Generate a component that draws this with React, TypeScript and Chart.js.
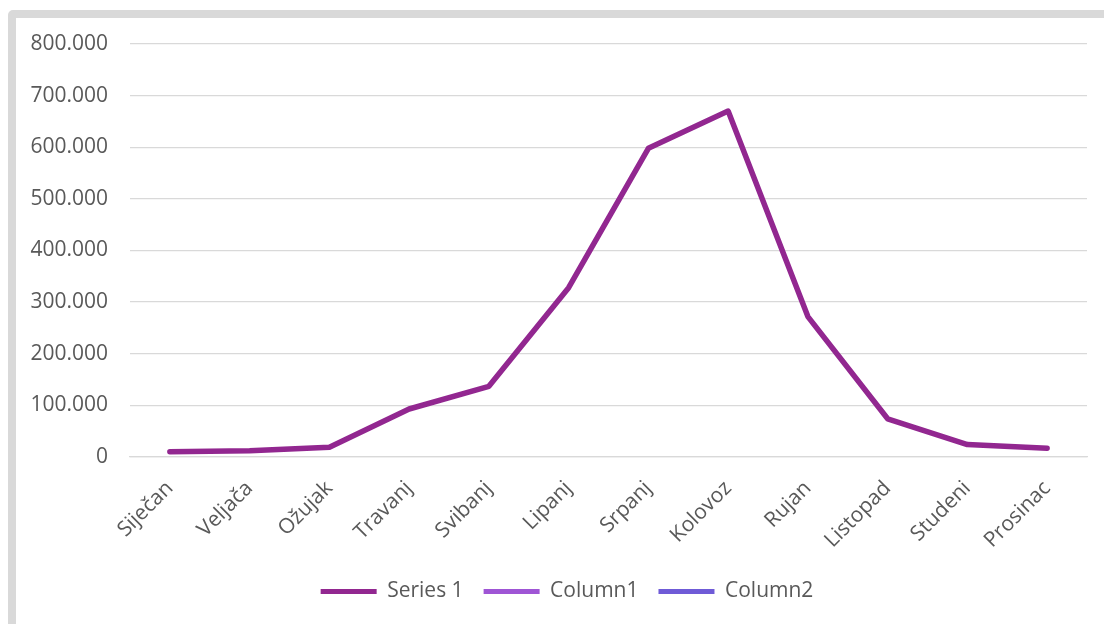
import React, { useEffect, useRef } from "react";
import { Chart, registerables } from "chart.js";

Chart.register(...registerables);

const months = [
  "Siječan", "Veljača", "Ožujak", "Travanj", "Svibanj", "Lipanj",
  "Srpanj", "Kolovoz", "Rujan", "Listopad", "Studeni", "Prosinac",
];
const series1 = [10000, 12000, 19000, 93000, 137000, 328000, 598000, 670000, 272000, 74000, 24000, 17000];
const column1: (number | null)[] = [];
const column2: (number | null)[] = [];

const seriesNames = ["Series 1", "Column1", "Column2"];
const seriesColors = ["#922790", "#9f55d5", "#6f5bd7"];

const fmt = (v: number) => String(v).replace(/\B(?=(\d{3})+(?!\d))/g, ".");

export default function App() {
  const ref = useRef<HTMLCanvasElement | null>(null);
  useEffect(() => {
    document.body.style.margin = "0";
    document.body.style.overflow = "hidden";
    const ctx = ref.current!;
    const font = { family: "'Open Sans', sans-serif", size: 21 };
    const chart = new Chart(ctx, {
      type: "line",
      data: {
        labels: months,
        datasets: [
          { label: seriesNames[0], data: series1, borderColor: seriesColors[0], backgroundColor: seriesColors[0], borderWidth: 5.5, pointRadius: 0, borderCapStyle: "round", borderJoinStyle: "round", tension: 0 },
          { label: seriesNames[1], data: column1, borderColor: seriesColors[1], backgroundColor: seriesColors[1], borderWidth: 5.5, pointRadius: 0 },
          { label: seriesNames[2], data: column2, borderColor: seriesColors[2], backgroundColor: seriesColors[2], borderWidth: 5.5, pointRadius: 0 },
        ],
      },
      options: {
        animation: false,
        responsive: false,
        maintainAspectRatio: false,
        layout: { padding: { top: 26, right: 0, left: 0, bottom: 26 } },
        plugins: {
          tooltip: { enabled: false },
          legend: {
            position: "bottom",
            labels: {
              font,
              color: "#595959",
              boxWidth: 56,
              boxHeight: 5,
              padding: 20,
              useBorderRadius: true,
              borderRadius: 2.5,
              generateLabels: (c: any) =>
                c.data.datasets.map((d: any, i: number) => ({
                  text: d.label,
                  fillStyle: d.borderColor,
                  strokeStyle: d.borderColor,
                  lineWidth: 0,
                  fontColor: "#595959",
                  hidden: false,
                  datasetIndex: i,
                })),
            },
          },
        },
        scales: {
          x: {
            offset: true,
            grid: { display: false, drawTicks: false },
            border: { display: true, color: "#d9d9d9", width: 1.3 },
            ticks: { font, color: "#595959", minRotation: 45, maxRotation: 45, padding: 19, autoSkip: false },
            afterFit: (s: any) => { s.height = 104; },
          },
          y: {
            min: 0,
            max: 800000,
            grid: { color: "#d9d9d9", lineWidth: 1.3, drawTicks: false },
            border: { display: false },
            ticks: { stepSize: 100000, font, color: "#595959", padding: 22, callback: (v: any) => fmt(Number(v)) },
            afterFit: (s: any) => { s.width = 114; s.paddingTop = 0; s.paddingBottom = 0; },
          },
          yRight: {
            position: "right",
            display: true,
            min: 0,
            max: 800000,
            grid: { display: false, drawTicks: false },
            border: { display: false },
            ticks: { display: false },
            afterFit: (s: any) => { s.width = 31; s.paddingTop = 0; s.paddingBottom = 0; },
          },
        },
      },
    });
    return () => chart.destroy();
  }, []);

  return (
    <div style={{ position: "relative", width: 1104, height: 624, overflow: "hidden", background: "#fff" }}>
      <div style={{ position: "absolute", left: 8, top: 10, width: 1120, height: 640, border: "8px solid #d9d9d9", borderRadius: 5, boxSizing: "border-box" }} />
      <canvas ref={ref} width={1102} height={620} style={{ position: "absolute", left: 16, top: 18, width: 1102, height: 620 }} />
    </div>
  );
}
